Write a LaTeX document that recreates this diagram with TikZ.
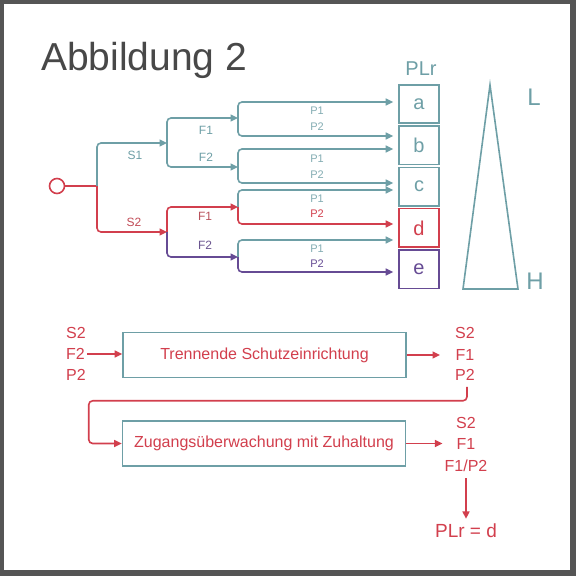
\documentclass[tikz,border=0pt]{standalone}
\usepackage{fontspec}
\setmainfont{Liberation Sans}
\usetikzlibrary{arrows.meta, positioning}

\definecolor{tealline}{HTML}{6E9FA6}
\definecolor{redline}{HTML}{D23F4D}
\definecolor{purpleline}{HTML}{664B94}
\definecolor{framegray}{HTML}{555555}
\definecolor{titlegray}{HTML}{484848}

\begin{document}
\begin{tikzpicture}[x=1pt, y=-1pt]
    % Setup the styles
    \tikzset{conn/.style={line width=1.6pt, rounded corners=4pt},
             arr/.style={conn, -{Triangle[length=7.5pt, width=7pt]}},
             plbox/.style={draw=tealline, line width=1.6pt, text=tealline,
                           minimum width=40pt, minimum height=38.5pt, inner sep=0pt,
                           font=\fontsize{20}{20}\selectfont},
             procbox/.style={draw=tealline, line width=1.6pt, text=redline,
                             minimum width=283pt, minimum height=45pt, inner sep=0pt,
                             font=\fontsize{16}{16}\selectfont},
             branch/.style={inner sep=0pt, font=\fontsize{12}{12}\selectfont},
             plabel/.style={inner sep=0pt, font=\fontsize{11}{11}\selectfont},
             risk/.style={inner sep=0pt, text=redline, font=\fontsize{16}{16}\selectfont}}

    % Frame and page
    \fill[framegray] (0,0) rectangle (576,576);
    \fill[white] (4,4) rectangle (570,570);
    \useasboundingbox (0,0) rectangle (576,576);

    % Title
    \node[anchor=base west, inner sep=0pt, text=titlegray,
          font=\fontsize{39}{39}\selectfont] (title) at (41,70) {Abbildung 2};

    % Risk graph: start and junctions
    \node[circle, draw=redline, line width=1.6pt, minimum size=15pt, inner sep=0pt] (start) at (57,186) {};
    \coordinate (j0)   at (97,186);
    \coordinate (js1)  at (167,143);
    \coordinate (js2)  at (167,232);
    \coordinate (jf11) at (238,118);
    \coordinate (jf12) at (238,167);
    \coordinate (jf21) at (238,207);
    \coordinate (jf22) at (238,257);

    % PLr boxes
    \node[plbox] at (419,104) (a) {a};
    \node[plbox, below=1.2pt of a] (b) {b};
    \node[plbox, below=1.2pt of b] (c) {c};
    \node[plbox, below=1.2pt of c, draw=redline, text=redline] (d) {d};
    \node[plbox, below=1.2pt of d, draw=purpleline, text=purpleline] (e) {e};
    \node[inner sep=0pt, text=tealline, font=\fontsize{20}{20}\selectfont] at (421,69) (plr) {PLr};

    % Connect the levels
    \draw[conn, redline] (start) -- (j0);
    \draw[arr, tealline] (j0) |- (js1);
    \draw[arr, redline]  (j0) |- (js2);
    \draw[arr, tealline] (js1) |- (jf11);
    \draw[arr, tealline] (js1) |- (jf12);
    \draw[arr, redline]  (js2) |- (jf21);
    \draw[arr, purpleline] (js2) |- (jf22);

    \draw[arr, tealline, shorten >=5pt] (jf11) |- ([yshift=2pt]a.west);
    \draw[arr, tealline, shorten >=5pt] (jf11) |- ([yshift=9.3pt]b.west);
    \draw[arr, tealline, shorten >=5pt] (jf12) |- ([yshift=-3.7pt]b.west);
    \draw[arr, tealline, shorten >=5pt] (jf12) |- ([yshift=3.6pt]c.west);
    \draw[arr, tealline, shorten >=5pt] (jf21) |- ([yshift=-3.4pt]c.west);
    \draw[arr, redline, shorten >=5pt]  (jf21) |- ([yshift=3.9pt]d.west);
    \draw[arr, tealline, shorten >=5pt] (jf22) |- ([yshift=-12.1pt]d.west);
    \draw[arr, purpleline, shorten >=5pt] (jf22) |- ([yshift=-2.8pt]e.west);

    % Branch labels
    \node[branch, text=tealline] at (135,155) (s1) {S1};
    \node[branch, text=redline!80!gray] at (134,222) (s2) {S2};
    \node[branch, text=tealline] at (206,130) (f11) {F1};
    \node[branch, text=tealline] at (206,157) (f12) {F2};
    \node[branch, text=redline!70!gray] at (205,216) (f21) {F1};
    \node[branch, text=purpleline!80!gray] at (205,245) (f22) {F2};

    \node[plabel, text=tealline!85] at (317,111) (p111) {P1};
    \node[plabel, text=tealline!85] at (317,127) (p112) {P2};
    \node[plabel, text=tealline!85] at (317,159) (p121) {P1};
    \node[plabel, text=tealline!85] at (317,175) (p122) {P2};
    \node[plabel, text=tealline!85] at (317,199) (p211) {P1};
    \node[plabel, text=redline] at (317,214) (p212) {P2};
    \node[plabel, text=tealline!85] at (317,249) (p221) {P1};
    \node[plabel, text=purpleline] at (317,264) (p222) {P2};

    % Scale triangle
    \coordinate (tip) at (490,85);
    \coordinate (bl)  at (463,289);
    \coordinate (br)  at (518,289);
    \draw[tealline, line width=1.6pt] (tip) -- (br) -- (bl) -- cycle;
    \node[inner sep=0pt, text=tealline, font=\fontsize{24}{24}\selectfont] at (534,97) (low) {L};
    \node[inner sep=0pt, text=tealline, font=\fontsize{24}{24}\selectfont] at (535,281) (high) {H};

    % First measure
    \node[risk, anchor=west] at (66,333) (ins2) {S2};
    \node[risk, anchor=west] at (66,354) (inf2) {F2};
    \node[risk, anchor=west] at (66,375) (inp2) {P2};
    \node[procbox] at (264.5,355) (trenn) {Trennende Schutzeinrichtung};
    \node[risk] at (465,333) (outs2) {S2};
    \node[risk] at (465,355) (outf1) {F1};
    \node[risk] at (465,375) (outp2) {P2};

    \draw[arr, redline] ([xshift=2pt]inf2.east) -- (inf2.east -| trenn.west);
    \draw[arr, redline] (trenn.east) -- (trenn.east -| 440,0);

    % Second measure
    \node[procbox] at (264,443.5) (zug) {Zugangsüberwachung mit Zuhaltung};
    \node[risk] at (466,423) (o2s2) {S2};
    \node[risk] at (466,444) (o2f1) {F1};
    \node[risk] at (466,466) (o2fp) {F1/P2};
    \node[inner sep=0pt, text=redline, font=\fontsize{19}{19}\selectfont] at (466,531) (result) {PLr = d};

    \draw[arr, redline] ([xshift=2pt, yshift=-6pt]outp2.south) -- ++(0,14) -| ([xshift=-33pt]zug.west) -- (zug.west);
    \draw[arr, redline] (zug.east) -- ([xshift=-14pt]o2f1.west |- zug.east);
    \draw[arr, redline] ([yshift=-6pt]o2fp.south) -- ([yshift=5pt]result.north);
\end{tikzpicture}
\end{document}
